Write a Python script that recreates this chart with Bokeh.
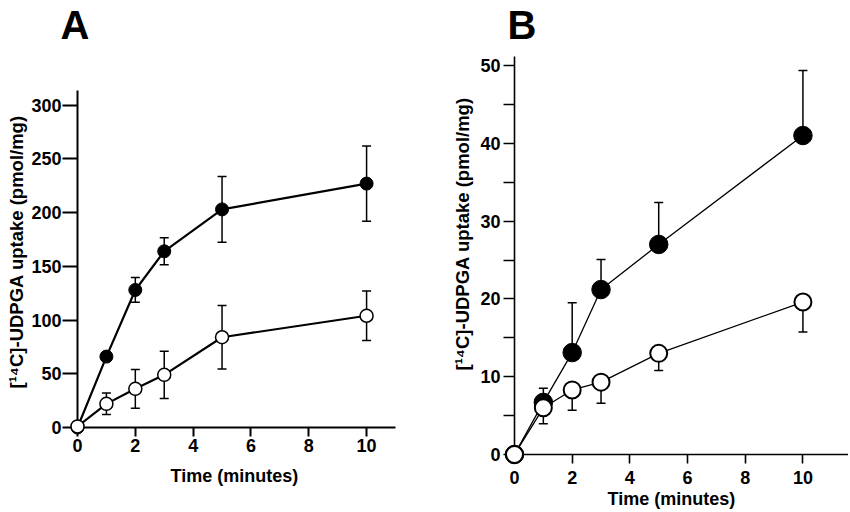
from bokeh.plotting import figure
from bokeh.models import LinearAxis, FixedTicker, Range1d, Title
from bokeh.layouts import row
from bokeh.embed import file_html
from bokeh.resources import INLINE

# ---------------- data ----------------
time_min = [0, 1, 2, 3, 5, 10]

# Panel A
a_filled = [0, 66, 128, 164, 203, 227]
a_filled_sd = [0, 3, 11.5, 12.5, 30.5, 35]
a_open = [1, 22, 36, 49, 84, 104]
a_open_sd = [0, 10, 18, 22, 29.5, 23]

# Panel B
b_filled = [0, 6.7, 13.1, 21.2, 27.0, 41.0]
b_filled_sd = [0, 1.8, 6.4, 3.85, 5.4, 8.35]      # drawn upward only
b_open = [0, 6.0, 8.3, 9.3, 13.0, 19.6]
b_open_sd = [0, 2.05, 2.6, 2.7, 2.2, 3.85]        # drawn downward only

x_ticks = [0, 2, 4, 6, 8, 10]
a_y_ticks = [0, 50, 100, 150, 200, 250, 300]
b_y_ticks = [0, 10, 20, 30, 40, 50]
b_y_minor = [5, 15, 25, 35, 45]

x_label = "Time (minutes)"
y_label = "[\u00b9\u2074C]-UDPGA uptake (pmol/mg)"

FONT = "Liberation Sans"
H = 512


def main_axis(ticks, bounds, lw, tick_out, standoff, minor=None):
    ax = LinearAxis(bounds=bounds,
                    ticker=FixedTicker(ticks=ticks, minor_ticks=minor or []))
    ax.axis_line_width = lw
    ax.axis_line_color = "black"
    ax.major_tick_line_width = lw
    ax.major_tick_line_color = "black"
    ax.major_tick_out = tick_out
    ax.major_tick_in = 0
    ax.minor_tick_in = 0
    if minor:
        ax.minor_tick_out = tick_out
        ax.minor_tick_line_width = lw
        ax.minor_tick_line_color = "black"
    else:
        ax.minor_tick_out = 0
        ax.minor_tick_line_color = None
    ax.major_label_text_font = FONT
    ax.major_label_text_font_style = "bold"
    ax.major_label_text_font_size = "18px"
    ax.major_label_text_color = "black"
    ax.major_label_standoff = standoff
    return ax


def text_title(text, size, align, offset, valign, standoff):
    t = Title(text=text, align=align, offset=offset, vertical_align=valign,
              text_font=FONT, text_font_style="bold", text_font_size=size,
              text_color="black")
    try:
        t.standoff = standoff
    except Exception:
        t.standoff = 0
    return t


def base_fig(width, xr, yr, mbl, mbr, mbt, mbb, letter, offset):
    p = figure(width=width, height=H, x_range=Range1d(*xr), y_range=Range1d(*yr),
               x_axis_location=None, y_axis_location=None,
               toolbar_location=None, output_backend="svg",
               min_border_left=mbl, min_border_right=mbr,
               min_border_top=mbt, min_border_bottom=mbb)
    p.outline_line_color = None
    p.grid.visible = False
    p.background_fill_color = "white"
    p.border_fill_color = "white"
    p.title = text_title(letter, "40px", "left", offset, "bottom", -33)
    try:
        if "frame_align" in p.properties():
            p.frame_align = False
    except Exception:
        pass
    return p


# ---------------- Panel A ----------------
# frame: left 77, right 395, top 30, bottom 427
pA = base_fig(430, (0, 11.0), (0, 369.5), 77, 35, 30, H - 427, "A", -17)

pA.add_layout(main_axis(x_ticks, (0, 11.0), 2, 9, 2), "below")
pA.add_layout(text_title(x_label, "18px", "left", 93, "top", 22), "below")
pA.add_layout(main_axis(a_y_ticks, (0, 314), 2, 15, 1), "left")
pA.add_layout(text_title(y_label, "18.5px", "left", 39, "middle", 2), "left")

a_f_lo = [v - s for v, s in zip(a_filled, a_filled_sd)]
a_f_hi = [v + s for v, s in zip(a_filled, a_filled_sd)]
a_o_lo = [v - s for v, s in zip(a_open, a_open_sd)]
a_o_hi = [v + s for v, s in zip(a_open, a_open_sd)]

pA.line(time_min, a_filled, line_width=2.2, line_color="black")
pA.line(time_min, a_open, line_width=2.2, line_color="black")
for lo, hi in ((a_f_lo, a_f_hi), (a_o_lo, a_o_hi)):
    pA.segment(x0=time_min, y0=lo, x1=time_min, y1=hi, line_width=1.5, line_color="black")
    pA.scatter(time_min, lo, marker="dash", size=9, line_width=1.5, line_color="black")
    pA.scatter(time_min, hi, marker="dash", size=9, line_width=1.5, line_color="black")
pA.scatter(time_min, a_filled, marker="circle", size=13, fill_color="black",
           line_color="black", level="overlay")
pA.scatter(time_min, a_open, marker="circle", size=13, fill_color="white",
           line_color="black", line_width=1.5, level="overlay")

# ---------------- Panel B ----------------
# frame: left 514, right 848, top 30, bottom 454
pB = base_fig(418, (0, 11.58), (0, 54.5), 84, 0, 30, H - 454, "B", -7)

pB.add_layout(main_axis(x_ticks, "auto", 1.6, 9, 7), "below")
pB.add_layout(text_title(x_label, "18px", "left", 93, "top", 4), "below")
pB.add_layout(main_axis(b_y_ticks, (0, 51.1), 1.6, 11, 3, minor=b_y_minor), "left")
pB.add_layout(text_title(y_label, "18.5px", "left", 84, "middle", 8), "left")

b_f_hi = [v + s for v, s in zip(b_filled, b_filled_sd)]
b_o_lo = [v - s for v, s in zip(b_open, b_open_sd)]

pB.line(time_min, b_filled, line_width=1.3, line_color="black")
pB.line(time_min, b_open, line_width=1.3, line_color="black")
pB.segment(x0=time_min, y0=b_filled, x1=time_min, y1=b_f_hi, line_width=1.5, line_color="black")
pB.scatter(time_min, b_f_hi, marker="dash", size=9, line_width=1.5, line_color="black")
pB.segment(x0=time_min, y0=b_open, x1=time_min, y1=b_o_lo, line_width=1.5, line_color="black")
pB.scatter(time_min, b_o_lo, marker="dash", size=9, line_width=1.5, line_color="black")
pB.scatter(time_min, b_filled, marker="circle", size=18.5, fill_color="black",
           line_color="black", level="overlay")
pB.scatter(time_min, b_open, marker="circle", size=17, fill_color="white",
           line_color="black", line_width=2, level="overlay")

layout = row(pA, pB)
open("out.html", "w").write(file_html(layout, INLINE))
